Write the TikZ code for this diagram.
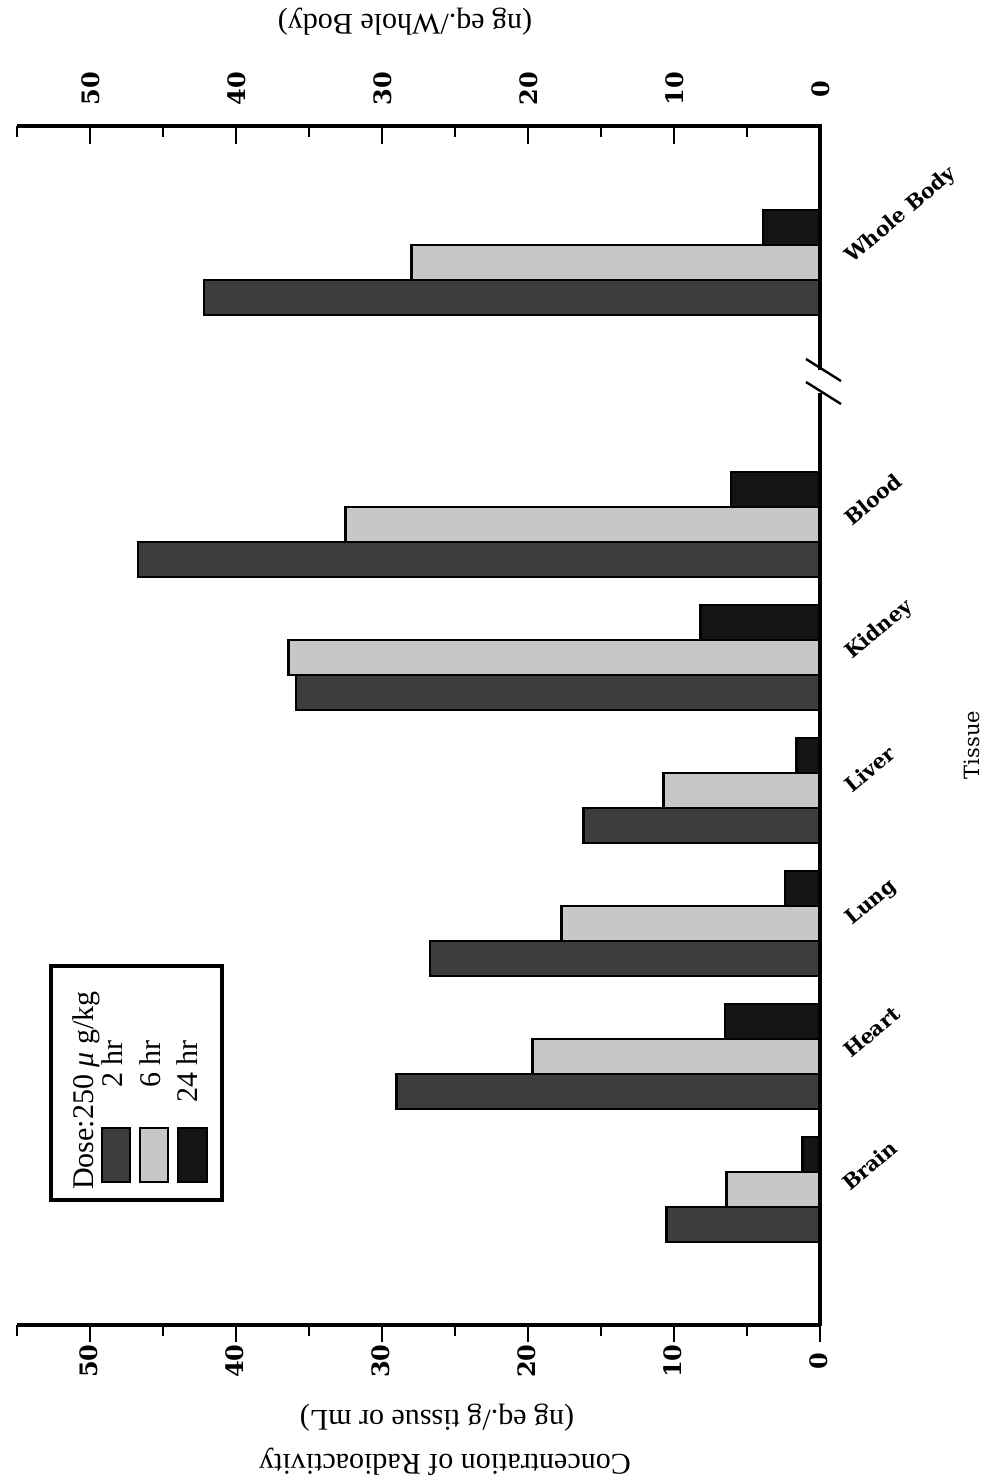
\documentclass[tikz,border=0pt]{standalone}
\usepackage{fontspec}
\setmainfont{Liberation Serif}
\newfontfamily\dvs{DejaVu Serif}
\newcommand\bargrp[4]{%
  \path[barC] ({820-#4*14.6},#1) rectangle (820,{#1+35});
  \path[barB] ({820-#3*14.6},{#1+35}) rectangle (820,{#1+70});
  \path[barA] ({820-#2*14.6},{#1+70}) rectangle (820,{#1+105});
}
\begin{document}
\begin{tikzpicture}[x=1pt,y=-1pt,
  axisline/.style={line width=3.2pt},
  tickline/.style={line width=2.4pt},
  barA/.style={draw=black,line width=2.6pt,fill=black!76},
  barB/.style={draw=black,line width=2.6pt,fill=black!22},
  barC/.style={draw=black,line width=2.6pt,fill=black!92},
  ticklab/.style={font=\dvs\bfseries\fontsize{24}{28}\selectfont,rotate=90,inner sep=0pt},
  tissuelab/.style={font=\dvs\bfseries\fontsize{20.5}{24}\selectfont,rotate=40,anchor=base west,inner sep=0pt},
  axtitle/.style={font=\fontsize{30}{34}\selectfont,rotate=180,inner sep=0pt},
  legtext/.style={font=\fontsize{30}{34}\selectfont,rotate=90,inner sep=0pt},
]
\useasboundingbox[fill=white] (0,0) rectangle (987,1482);
% bars
\bargrp{210}{42.2}{28.0}{3.9}
\bargrp{472}{46.7}{32.5}{6.1}
\bargrp{605}{35.9}{36.4}{8.2}
\bargrp{738}{16.2}{10.7}{1.6}
\bargrp{871}{26.7}{17.7}{2.4}
\bargrp{1004}{29.0}{19.7}{6.5}
\bargrp{1137}{10.5}{6.4}{1.2}
% vertical axis with break
\draw[axisline] (820,124) -- (820,370);
\draw[axisline] (820,393) -- (820,1326);
\draw[line width=2.4pt] (806,359) -- (841,381);
\draw[line width=2.4pt] (806,382) -- (841,404);
% top axis
\draw[axisline] (17,126) -- (821,126);
\foreach \v in {0,10,...,50} {\draw[tickline] ({820-\v*14.6},126) -- ++(0,18);}
\foreach \v in {5,15,...,55} {\draw[tickline] ({820-\v*14.6},126) -- ++(0,11);}
\foreach \v in {0,10,...,50} {\node[ticklab] (tt\v) at ({821-\v*14.6},89) {\v};}
% bottom axis
\draw[axisline] (17,1325) -- (821,1325);
\foreach \v in {0,10,...,50} {\draw[tickline] ({820-\v*14.6},1325) -- ++(0,17);}
\foreach \v in {5,15,...,55} {\draw[tickline] ({820-\v*14.6},1325) -- ++(0,11);}
\foreach \v in {0,10,...,50} {\node[ticklab] (bt\v) at ({819-\v*14.6},1361) {\v};}
% axis titles
\node[axtitle] (wbunit) at (405,22) {(ng eq./Whole Body)};
\node[axtitle] (unit) at (437,1418) {(ng eq./g tissue or mL)};
\node[axtitle] (conc) at (445,1462) {Concentration of Radioactivity};
% tissue labels
\node[tissuelab] (lwb) at (852,264) {Whole Body};
\node[tissuelab] (lblood) at (852,527) {Blood};
\node[tissuelab] (lkid) at (852,660) {Kidney};
\node[tissuelab] (lliv) at (852,794) {Liver};
\node[tissuelab] (llung) at (852,926) {Lung};
\node[tissuelab] (lheart) at (851,1059) {Heart};
\node[tissuelab] (lbrain) at (850,1192) {Brain};
\node[font=\dvs\fontsize{21}{24}\selectfont,rotate=90,inner sep=0pt] (tissue) at (972,745) {Tissue};
% legend
\draw[line width=3.2pt] (51,966) rectangle (222,1200);
\path[barA] (102,1128) rectangle (130,1182);
\path[barB] (140,1128) rectangle (168,1182);
\path[barC] (178,1128) rectangle (207,1182);
\node[legtext,anchor=base west] (dose) at (93,1190) {Dose:250 {\itshape μ} g/kg};
\node[legtext,anchor=base east] (h2) at (122,1040) {2 hr};
\node[legtext,anchor=base east] (h6) at (160,1040) {6 hr};
\node[legtext,anchor=base east] (h24) at (197,1040) {24 hr};
\end{tikzpicture}
\end{document}
